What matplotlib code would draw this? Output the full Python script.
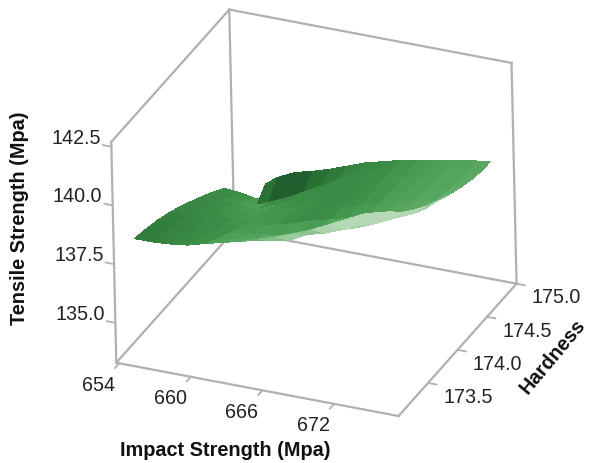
#!/usr/bin/env python
# -*- coding: utf-8 -*-
# Response surface: tensile strength vs impact strength and hardness
import numpy as np
from matplotlib import pyplot as plt
from matplotlib.colors import LinearSegmentedColormap, Normalize

plt.rcParams['font.family'] = ['Liberation Sans', 'DejaVu Sans']

#============================== Data ==============================
impact = [654.5, 656, 657, 657.5, 658, 659, 660.5, 662, 663.5, 665, 666.5, 668, 669.5, 671, 672.5, 674, 676, 677]
hardness = [173.2, 173.4, 173.6, 173.8, 174.0, 174.2, 174.4, 174.55, 174.7]
tensile = [
    [138.09, 138.10, 138.13, 138.15, 138.17, 138.25, 138.46, 138.65, 138.85, 139.08, 139.32, 139.60, 139.92, 140.28, 140.66, 141.03, 141.30, 141.36],
    [137.95, 137.92, 137.92, 137.92, 137.93, 137.97, 138.10, 138.22, 138.30, 138.45, 138.60, 139.00, 139.20, 139.50, 139.85, 140.25, 140.65, 140.89],
    [137.77, 137.72, 137.70, 137.69, 137.69, 137.71, 137.78, 137.88, 137.98, 138.12, 138.40, 138.60, 138.80, 139.00, 139.30, 139.65, 140.10, 140.49],
    [137.53, 137.47, 137.44, 137.43, 137.42, 137.43, 137.50, 137.68, 137.85, 138.05, 138.32, 138.50, 138.70, 138.90, 139.12, 139.40, 139.75, 140.17],
    [137.25, 137.18, 137.14, 137.13, 137.12, 137.12, 137.22, 137.45, 137.70, 138.00, 138.30, 138.48, 138.68, 138.85, 139.05, 139.28, 139.55, 139.88],
    [136.92, 136.84, 136.79, 136.77, 136.76, 136.76, 136.95, 137.25, 137.55, 137.95, 138.28, 138.46, 138.66, 138.82, 139.00, 139.20, 139.42, 139.63],
    [136.58, 136.48, 136.42, 136.40, 136.38, 136.42, 136.72, 137.10, 137.45, 137.90, 138.26, 138.45, 138.65, 138.80, 138.97, 139.15, 139.33, 139.44],
    [136.30, 136.18, 136.10, 136.08, 136.05, 136.26, 136.60, 137.00, 137.40, 137.85, 138.25, 138.44, 138.64, 138.79, 138.95, 139.10, 139.27, 139.35],
    [136.01, 135.94, 135.83, 135.83, 136.53, 136.90, 137.26, 137.45, 137.69, 137.97, 138.25, 138.44, 138.64, 138.78, 138.93, 139.08, 139.23, 139.33],
]
x_ticks = [654, 660, 666, 672]
y_ticks = [173.5, 174.0, 174.5, 175.0]
z_ticks = [135.0, 137.5, 140.0, 142.5]
x_lim = (653.75, 677.4)
y_lim = (173.0, 175.0)
z_lim = (133.3, 142.7)


def inner(lim):
    # mplot3d puts its axis lines 1/48 outside the limits
    r = (lim[1] - lim[0]) / 25.0 * 24.0
    m = (lim[0] + lim[1]) / 2.0
    return (m - r / 2.0, m + r / 2.0)


#============================== Plot ==============================
fig = plt.figure(figsize=(5.93, 4.63), dpi=100)
ax = fig.add_axes([11.0 / 593, 14.0 / 463, 1, 1], projection='3d', computed_zorder=False)
ax.set_proj_type('ortho')
ax.view_init(elev=28.5, azim=-66.0, roll=1.3)
ax.set_box_aspect((309, 302, 250), zoom=1.01)
ax.set_xlim(inner(x_lim))
ax.set_ylim(inner(y_lim))
ax.set_zlim(inner(z_lim))

# box edges, the front top ones are left out
grey = '#b0b0b0'
x0, x1 = x_lim
y0, y1 = y_lim
z0, z1 = z_lim
for xs, ys, zs in [([x0, x1], [y0, y0], [z0, z0]), ([x1, x1], [y0, y1], [z0, z0]),
                   ([x0, x0], [y0, y1], [z0, z0]), ([x0, x1], [y1, y1], [z0, z0]),
                   ([x0, x0], [y0, y0], [z0, z1]), ([x0, x0], [y1, y1], [z0, z1]),
                   ([x1, x1], [y1, y1], [z0, z1]), ([x0, x0], [y0, y1], [z1, z1]),
                   ([x0, x1], [y1, y1], [z1, z1])]:
    ax.plot(xs, ys, zs, color=grey, lw=1.6, zorder=1)

# tick marks on the box edges
for t in x_ticks:
    ax.plot([t, t], [y0, y0 - 0.07], [z0, z0], color=grey, lw=1.3, zorder=1)
for t in y_ticks:
    ax.plot([x1, x1 + 0.7], [t, t], [z0, z0], color=grey, lw=1.3, zorder=1)
for t in z_ticks:
    ax.plot([x0, x0 - 0.7], [y0, y0], [t, t], color=grey, lw=1.3, zorder=1)

# surface, coloured from its slope
X, Y = np.meshgrid(impact, hardness)
Z = np.array(tensile)
slope_y, slope_x = np.gradient(Z, hardness, impact)
light = -slope_y + 0.14 * (X - 665.0)
greens = LinearSegmentedColormap.from_list('greens', [
    (0.0, '#174d25'), (0.31, '#2f7a3a'), (0.49, '#3c8c46'),
    (0.56, '#4b9e54'), (0.72, '#5fab66'), (1.0, '#b5d9b5')])
colors = greens(Normalize(-3.5, 4.5)(light))
ax.plot_surface(X, Y, Z, facecolors=colors, shade=False, rstride=1, cstride=1,
                linewidth=0, antialiased=False, zorder=2)

# axes
for axis in (ax.xaxis, ax.yaxis, ax.zaxis):
    axis.set_pane_color((1, 1, 1, 0))
    axis.pane.set_edgecolor((1, 1, 1, 0))
    axis.line.set_color((1, 1, 1, 0))
    axis._axinfo['grid']['linewidth'] = 0
ax.grid(False)
ax.set_xticks(x_ticks)
ax.set_yticks(y_ticks)
ax.set_zticks(z_ticks)
ax.set_xticklabels(['%d' % v for v in x_ticks], ha='right', va='top')
ax.set_yticklabels(['%.1f' % v for v in y_ticks], ha='left', va='center')
ax.set_zticklabels(['%.1f' % v for v in z_ticks], ha='right', va='bottom')
ax.zaxis.set_ticks_position('lower')
ax.tick_params(labelsize=14.2, labelcolor='#222222', color=(1, 1, 1, 0))
ax.tick_params(axis='x', pad=2)
ax.tick_params(axis='y', pad=5)
ax.tick_params(axis='z', pad=-1)

fig.text(225 / 593, 1 - 451 / 463, 'Impact Strength (Mpa)', fontsize=14.3, fontweight='bold',
         ha='center', va='center', color='#111111')
fig.text(553 / 593, 1 - 357 / 463, 'Hardness', fontsize=14.3, fontweight='bold', rotation=50,
         ha='center', va='center', color='#111111')
fig.text(20 / 593, 1 - 218 / 463, 'Tensile Strength (Mpa)', fontsize=14.3, fontweight='bold',
         rotation=90, ha='center', va='center', color='#111111')

fig.savefig('out.png', dpi=100)
